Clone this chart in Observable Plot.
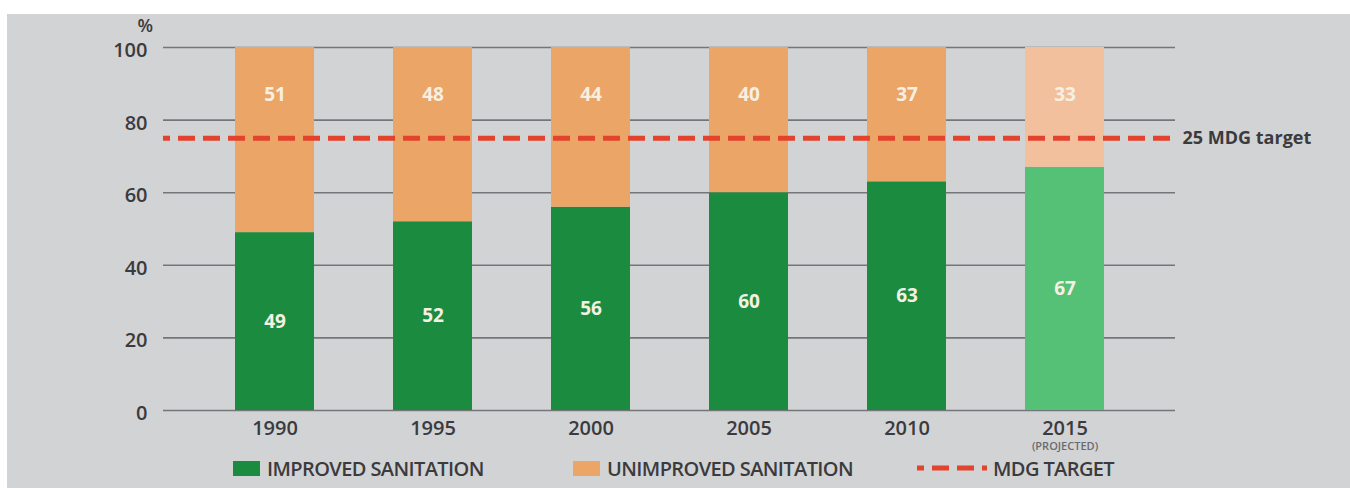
<!DOCTYPE html>
<html>
<head>
<meta charset="utf-8">
<script src="https://cdn.jsdelivr.net/npm/d3@7"></script>
<script src="https://cdn.jsdelivr.net/npm/@observablehq/plot@0.6"></script>
<style>
  html, body { margin: 0; padding: 0; background: #ffffff; }
  #wrap { position: absolute; left: 7px; top: 14px; width: 1343px; height: 474px; background: #d2d3d5; font-family: "Open Sans", sans-serif; }
  #chart svg { display: block; }
  .lg { position: absolute; top: 444px; height: 20px; display: flex; align-items: center; font-size: 20px; font-weight: 600; color: #3b3b3d; letter-spacing: -0.6px; }
  .sw { display: inline-block; width: 27px; height: 15px; margin-right: 7px; }
</style>
</head>
<body>
<div id="wrap">
  <div id="chart"></div>
  <div class="lg" style="left:226px"><span class="sw" style="background:#1b8c3f"></span>IMPROVED SANITATION</div>
  <div class="lg" style="left:566px"><span class="sw" style="background:#eba566"></span>UNIMPROVED SANITATION</div>
  <div class="lg" style="left:910px"><svg width="70" height="10" style="margin-right:6px"><line x1="0" y1="5" x2="70" y2="5" stroke="#e3432d" stroke-width="5" stroke-dasharray="7,8,17,8,17,8,7"/></svg>MDG TARGET</div>
</div>
<script>
const years = ["1990", "1995", "2000", "2005", "2010", "2015"];
const improved = [49, 52, 56, 60, 63, 67];
const unimproved = [51, 48, 44, 40, 37, 33];
const projected = [false, false, false, false, false, true];
const targetValue = 75;
const targetLabel = "25 MDG target";
const yTicks = [0, 20, 40, 60, 80, 100];

const rows = years.map((y, i) => ({year: y, improved: improved[i], unimproved: unimproved[i], projected: projected[i]}));
const segs = rows.flatMap(r => [
  {year: r.year, kind: "improved", value: r.improved, projected: r.projected},
  {year: r.year, kind: "unimproved", value: r.unimproved, projected: r.projected}
]);
const colors = {
  improved: ["#1b8c3f", "#55c176"],
  unimproved: ["#eba566", "#f2c09d"]
};

const chart = Plot.plot({
  width: 1343,
  height: 440,
  marginLeft: 156,
  marginRight: 175,
  marginTop: 33,
  marginBottom: 44,
  style: {background: "transparent", fontFamily: "Open Sans, sans-serif"},
  x: {domain: years, paddingInner: 0.5, paddingOuter: 0.44, align: 0.5},
  y: {domain: [0, 100]},
  marks: [
    Plot.ruleY(yTicks, {stroke: "#75767a", strokeWidth: 1.6}),
    Plot.barY(segs, Plot.stackY({
      x: "year", y: "value", order: d => d.kind === "improved" ? 0 : 1,
      fill: d => colors[d.kind][d.projected ? 1 : 0]
    })),
    Plot.ruleY([targetValue], {stroke: "#e3432d", strokeWidth: 5, strokeDasharray: "17,8", strokeDashoffset: 10}),
    Plot.text(rows, {x: "year", y: d => d.improved / 2, text: d => String(d.improved), fill: "#f4f1e4", fontSize: 19, fontWeight: 700}),
    Plot.text(rows, {x: "year", y: 87, text: d => String(d.unimproved), fill: "#f7f0e2", fontSize: 19, fontWeight: 700}),
    Plot.text([targetLabel], {y: targetValue, frameAnchor: "right", textAnchor: "start", dx: 7, fill: "#3b3b3d", fontSize: 18, fontWeight: 700, letterSpacing: -0.3}),
    Plot.axisY({ticks: yTicks, tickSize: 0, tickPadding: 16, dy: 3, fontSize: 20, fontWeight: 600, fill: "#3b3b3d", label: null}),
    Plot.text(["%"], {frameAnchor: "top-left", lineAnchor: "middle", dx: -26, dy: -21, fill: "#3b3b3d", fontSize: 18, fontWeight: 600}),
    Plot.axisX({tickSize: 0, tickPadding: 10, fontSize: 20, fontWeight: 600, fill: "#3b3b3d", label: null}),
    Plot.text(["(PROJECTED)"], {x: () => years[years.length - 1], frameAnchor: "bottom", lineAnchor: "middle", dy: 36, fill: "#6a6b6e", fontSize: 11, fontWeight: 600, letterSpacing: -0.4})
  ]
});
document.getElementById("chart").appendChild(chart);
</script>
</body>
</html>
